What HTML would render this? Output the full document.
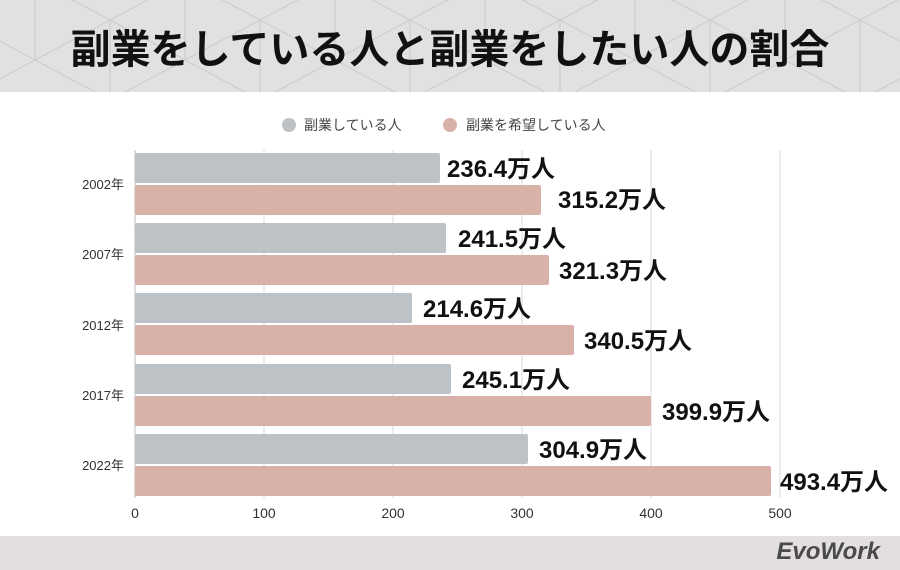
<!DOCTYPE html>
<html><head><meta charset="utf-8"><style>
body{margin:0;width:900px;height:570px;overflow:hidden;background:#fff;font-family:"Liberation Sans","Noto Sans CJK JP",sans-serif;position:relative}
.hdr{position:absolute;left:0;top:0;width:900px;height:92px;background:#e3e1e0}
.title{position:absolute;left:0;top:0;width:900px;height:92px;line-height:92px;text-align:center;font-size:40px;font-weight:bold;color:#111;font-family:"Noto Sans CJK JP",sans-serif}
.ftr{position:absolute;left:0;top:536px;width:900px;height:34px;background:#e3dfde}
.logo{position:absolute;right:20px;top:538px;font-size:24px;font-weight:bold;font-style:italic;color:#4a4a4a}
</style></head><body>
<div class="hdr"><svg width="900" height="92" style="position:absolute;left:0;top:0">
<g stroke="#cfcdcc" stroke-width="1.2" fill="none">
<path d="M-40,20 L35,-20 M35,-20 L110,20 L185,-20 L260,20 L335,-20 L410,20 L485,-20 L560,20 L635,-20 L710,20 L785,-20 L860,20 L935,-20"/>
<path d="M-40,20 L35,60 L110,20 L185,60 L260,20 L335,60 L410,20 L485,60 L560,20 L635,60 L710,20 L785,60 L860,20 L935,60"/>
<path d="M-40,100 L35,60 L110,100 L185,60 L260,100 L335,60 L410,100 L485,60 L560,100 L635,60 L710,100 L785,60 L860,100 L935,60"/>
<path d="M35,-20V60 M185,-20V60 M335,-20V60 M485,-20V60 M635,-20V60 M785,-20V60 M110,20V100 M260,20V100 M410,20V100 M560,20V100 M710,20V100 M860,20V100"/>
</g></svg></div>
<div class="title">副業をしている人と副業をしたい人の割合</div>
<svg width="900" height="570" style="position:absolute;left:0;top:0" font-family="Liberation Sans, Noto Sans CJK JP, sans-serif">
<circle cx="289" cy="125" r="7" fill="#bcc2c6"/><text x="304" y="130" font-size="14" fill="#444">副業している人</text>
<circle cx="450" cy="125" r="7" fill="#d8b1a8"/><text x="466" y="130" font-size="14" fill="#444">副業を希望している人</text>
<g stroke="#d8d8d8" stroke-width="1">
<line x1="264" y1="150" x2="264" y2="498"/><line x1="393" y1="150" x2="393" y2="498"/><line x1="522" y1="150" x2="522" y2="498"/><line x1="651" y1="150" x2="651" y2="498"/><line x1="780" y1="150" x2="780" y2="498"/></g>
<line x1="135" y1="150" x2="135" y2="498" stroke="#bbb"/>
<g font-size="14" fill="#333" text-anchor="middle">
<text x="135" y="518">0</text><text x="264" y="518">100</text><text x="393" y="518">200</text><text x="522" y="518">300</text><text x="651" y="518">400</text><text x="780" y="518">500</text></g>
<g font-size="13" fill="#333" text-anchor="end">
<text x="124" y="189">2002年</text><text x="124" y="259">2007年</text><text x="124" y="330">2012年</text><text x="124" y="400">2017年</text><text x="124" y="470">2022年</text></g>
<g fill="#bcc2c6">
<rect x="135" y="153" width="305" height="30" rx="2"/><rect x="135" y="223" width="311" height="30" rx="2"/><rect x="135" y="293" width="277" height="30" rx="2"/><rect x="135" y="364" width="316" height="30" rx="2"/><rect x="135" y="434" width="393" height="30" rx="2"/></g>
<g fill="#d8b1a8">
<rect x="135" y="185" width="406" height="30" rx="2"/><rect x="135" y="255" width="414" height="30" rx="2"/><rect x="135" y="325" width="439" height="30" rx="2"/><rect x="135" y="396" width="516" height="30" rx="2"/><rect x="135" y="466" width="636" height="30" rx="2"/></g>
<g font-size="24" font-weight="bold" fill="#111">
<text x="447" y="177">236.4万人</text><text x="558" y="208">315.2万人</text>
<text x="458" y="247">241.5万人</text><text x="559" y="279">321.3万人</text>
<text x="423" y="317">214.6万人</text><text x="584" y="349">340.5万人</text>
<text x="462" y="388">245.1万人</text><text x="662" y="420">399.9万人</text>
<text x="539" y="458">304.9万人</text><text x="780" y="490">493.4万人</text></g>
</svg>
<div class="ftr"></div><div class="logo">EvoWork</div>
</body></html>
